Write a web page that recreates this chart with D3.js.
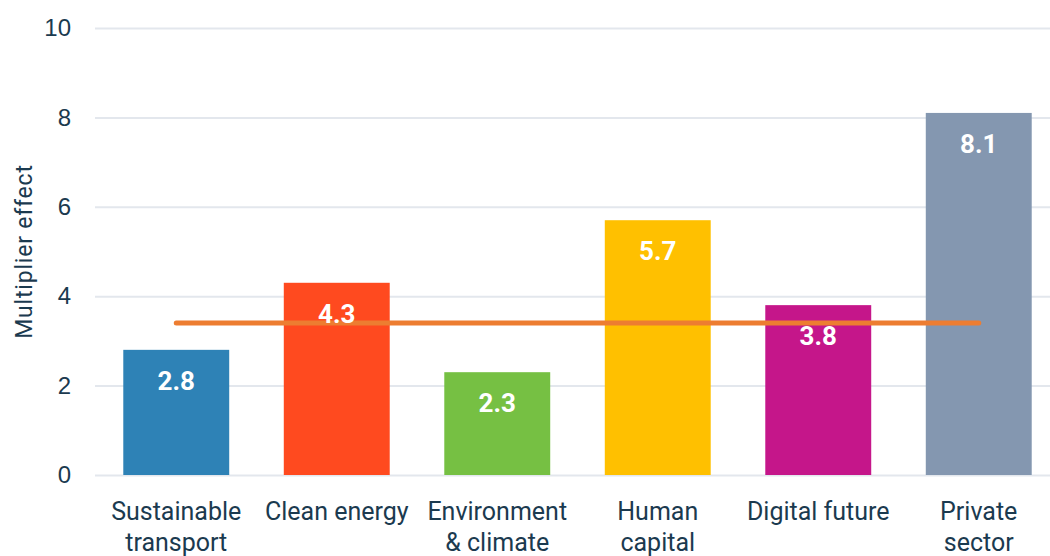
<!DOCTYPE html>
<html>
<head>
<meta charset="utf-8">
<script src="https://cdn.jsdelivr.net/npm/d3@7"></script>
<style>
  body { margin: 0; background: #fff; }
  svg { display: block; font-family: Roboto, "Open Sans", sans-serif; }
</style>
</head>
<body>
<svg id="chart" width="1050" height="556"></svg>
<script>
// Data
const categories = [
  ["Sustainable", "transport"],
  ["Clean energy"],
  ["Environment", "& climate"],
  ["Human", "capital"],
  ["Digital future"],
  ["Private", "sector"]
]
const values = [2.8, 4.3, 2.3, 5.7, 3.8, 8.1]
const barColors = ["#2e82b6", "#ff4a1f", "#76c043", "#ffc000", "#c5168a", "#8497b0"]
const averageValue = 3.4
const yTicks = [0, 2, 4, 6, 8, 10]

const svg = d3.select("#chart")
const width = 1050
const textColor = "#1b3a4f"

// Scales
const x = d3.scaleBand()
  .domain(d3.range(values.length))
  .range([96, 1059])
  .paddingInner(0.34)
  .paddingOuter(0.17)

const y = d3.scaleLinear()
  .domain([0, 10])
  .range([475, 28])

// Grid lines
svg.append("g")
  .attr("transform", "translate(95,0)")
  .call(d3.axisLeft(y).tickValues(yTicks).tickSize(-(width - 95)).tickFormat(() => ""))
  .call(g => g.select(".domain").remove())
  .selectAll("line")
  .attr("stroke", "#e3e7ed")
  .attr("stroke-width", 2)

// Y axis labels
svg.append("g")
  .attr("transform", "translate(71,0)")
  .call(d3.axisLeft(y).tickValues(yTicks).tickSize(0).tickPadding(0))
  .call(g => g.select(".domain").remove())
  .selectAll("text")
  .attr("fill", textColor)
  .style("font-size", "24px")

// Y axis title
svg.append("text")
  .attr("transform", `translate(32,${(y(0) + y(10)) / 2}) rotate(-90)`)
  .attr("text-anchor", "middle")
  .attr("fill", textColor)
  .style("font-size", "23px")
  .style("letter-spacing", "0.8px")
  .text("Multiplier effect")

// Bars
svg.selectAll(".bar")
  .data(values)
  .enter()
  .append("rect")
  .attr("class", "bar")
  .attr("x", (d, i) => x(i))
  .attr("y", d => y(d))
  .attr("width", x.bandwidth())
  .attr("height", d => y(0) - y(d))
  .attr("fill", (d, i) => barColors[i])

// Average line
svg.append("line")
  .attr("x1", x(0) + x.bandwidth() / 2)
  .attr("x2", x(values.length - 1) + x.bandwidth() / 2)
  .attr("y1", y(averageValue))
  .attr("y2", y(averageValue))
  .attr("stroke", "#ed7d31")
  .attr("stroke-width", 5)
  .attr("stroke-linecap", "round")

// Value labels
svg.selectAll(".val")
  .data(values)
  .enter()
  .append("text")
  .attr("class", "val")
  .attr("x", (d, i) => x(i) + x.bandwidth() / 2)
  .attr("y", d => y(d) + 40)
  .attr("text-anchor", "middle")
  .attr("fill", "#fff")
  .style("font-size", "26px")
  .style("font-weight", "bold")
  .text(d => d.toFixed(1))

// Category labels
const cat = svg.selectAll(".cat")
  .data(categories)
  .enter()
  .append("text")
  .attr("class", "cat")
  .attr("text-anchor", "middle")
  .attr("fill", textColor)
  .style("font-size", "25px")

cat.selectAll("tspan")
  .data((d, i) => d.map(line => ({ line, i })))
  .enter()
  .append("tspan")
  .attr("x", d => x(d.i) + x.bandwidth() / 2)
  .attr("y", (d, j) => 520 + j * 31)
  .text(d => d.line)
</script>
</body>
</html>
